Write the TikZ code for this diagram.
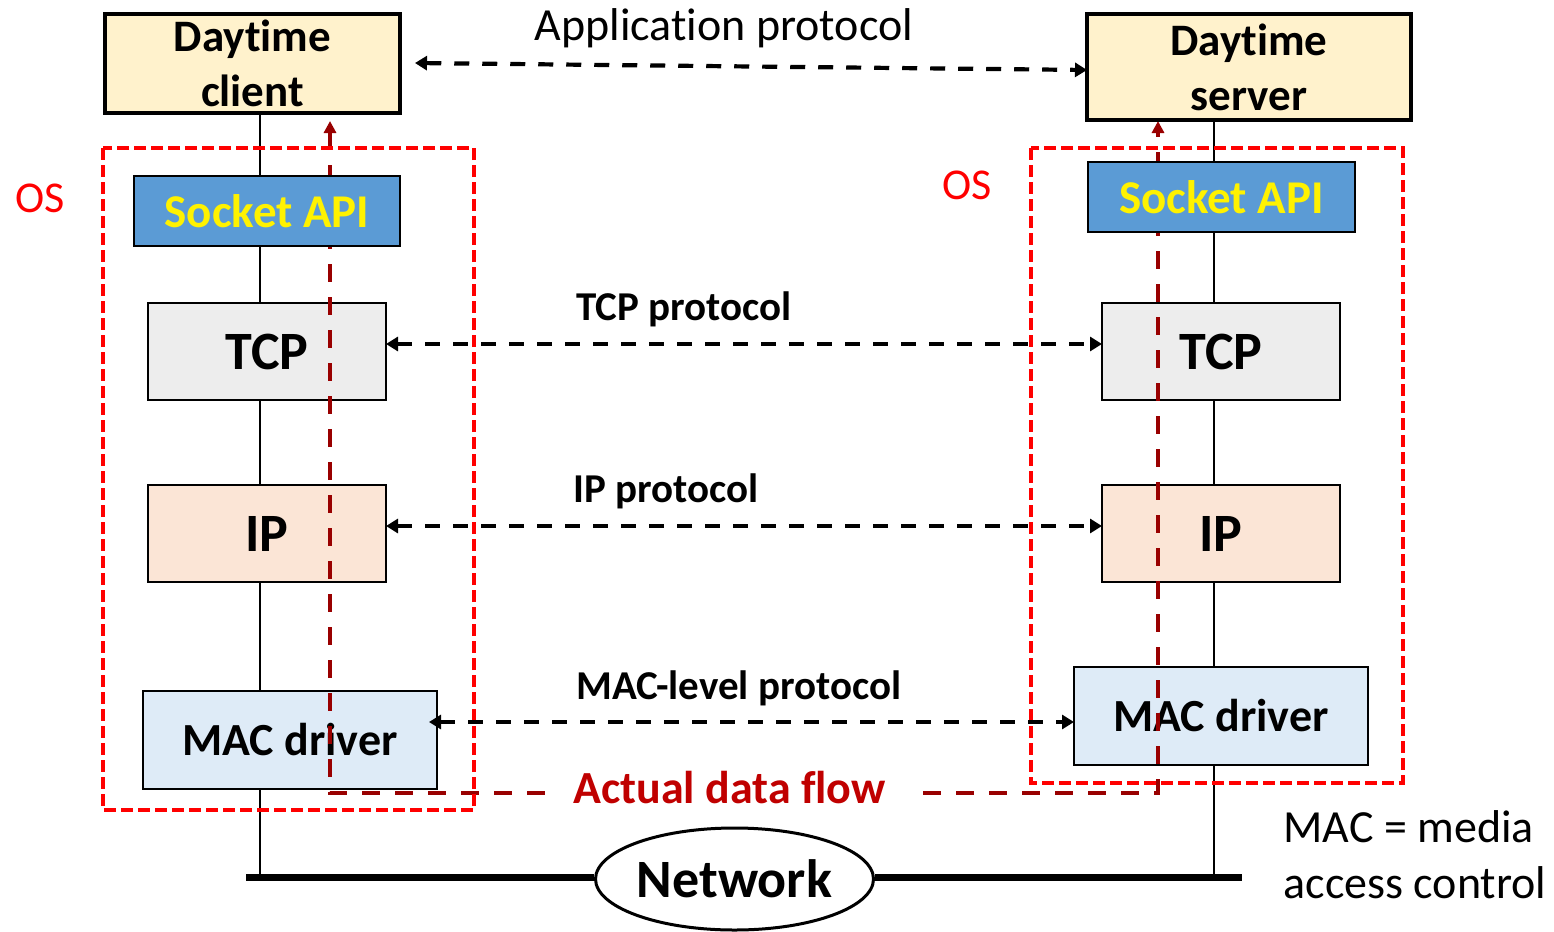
\documentclass[tikz,border=0pt]{standalone}
\usepackage{fontspec}
\setmainfont{Carlito}[Ligatures={NoCommon}]
\usetikzlibrary{arrows.meta,shapes.geometric}

\definecolor{cream}{HTML}{FFF2CC}
\definecolor{apiblue}{HTML}{5B9BD5}
\definecolor{tcpgray}{HTML}{EDEDED}
\definecolor{ippeach}{HTML}{FBE5D6}
\definecolor{macblue}{HTML}{DEEBF7}
\definecolor{flowred}{HTML}{990000}
\definecolor{flowtext}{HTML}{C00000}
\definecolor{osred}{HTML}{FF0000}

\newcommand\fsz[2]{\fontsize{#1}{#2}\selectfont}

\tikzset{
  layer/.style={draw=black, line width=1.8pt, inner sep=0pt, outer sep=0pt,
    font=\bfseries\fsz{54}{60}},
  appbox/.style={draw=black, line width=4.5pt, fill=cream, inner sep=0pt, outer sep=0pt,
    align=center, font=\bfseries\fsz{45}{55}},
  apibox/.style={draw=black, line width=2.2pt, fill=apiblue, inner sep=0pt, outer sep=0pt,
    text=yellow, font=\bfseries\fsz{47}{50}},
  conn/.style={draw=black, line width=2.2pt},
  netline/.style={draw=black, line width=7pt},
  proto/.style={draw=black, line width=4.2pt, dash pattern=on 15pt off 13pt,
    {Triangle[length=12pt,width=14pt]}-{Triangle[length=12pt,width=14pt]}},
  protolabel/.style={font=\bfseries\fsz{41}{46}},
  osbox/.style={draw=osred, line width=4pt, dash pattern=on 12pt off 5pt},
  oslabel/.style={text=osred, font=\fsz{44}{50}},
  flow/.style={draw=flowred, line width=4.2pt, dash pattern=on 18pt off 15pt,
    {Triangle[length=12pt,width=12pt]}-{Triangle[length=12pt,width=12pt]}},
}

\begin{document}
\begin{tikzpicture}[x=1pt, y=-1pt]
\useasboundingbox (0,0) rectangle (1554,931);

% x positions of the vertical stack connectors
\coordinate (cl) at (260,0);
\coordinate (sl) at (1214,0);
\coordinate (netL) at (246,877);
\coordinate (netR) at (1242,877);

% protocol layers below the socket interface
\node[layer, fill=tcpgray, minimum width=238pt, minimum height=97pt] (ctcp) at (267,351.5) {TCP};
\node[layer, fill=tcpgray, minimum width=238pt, minimum height=97pt] (stcp) at (1221,351.5) {TCP};
\node[layer, fill=ippeach, minimum width=238pt, minimum height=97pt] (cip) at (267,533.5) {IP};
\node[layer, fill=ippeach, minimum width=238pt, minimum height=97pt] (sip) at (1221,533.5) {IP};
\node[layer, fill=macblue, minimum width=294pt, minimum height=98pt, font=\bfseries\fsz{46}{50}] (cmac) at (290,740) {MAC driver};
\node[layer, fill=macblue, minimum width=294pt, minimum height=98pt, font=\bfseries\fsz{46}{50}] (smac) at (1221,716) {MAC driver};

% network medium
\node[draw=black, line width=3pt, ellipse, minimum width=278pt, minimum height=102pt,
  inner sep=0pt, fill=white, font=\bfseries\fsz{54}{60}] (network) at (734.5,879) {Network};
\draw[netline] (netL) -- (network.west |- netL);
\draw[netline] (network.east |- netR) -- (netR);

% path of the data through both stacks
\coordinate (fc) at (330,121);
\coordinate (fs) at (1158,121);
\draw[flow] (fc) -- (330,793) -- (1158,793) -- (fs);
\node[fill=white, inner xsep=28pt, inner ysep=4pt, text=flowtext,
  font=\bfseries\fsz{46}{50}] (flowlabel) at (729.5,788) {Actual data flow};

% socket interface and applications
\node[apibox, minimum width=266pt, minimum height=70pt] (csock) at (267,211) {Socket API};
\node[apibox, minimum width=267pt, minimum height=70pt] (ssock) at (1221.5,197) {Socket API};
\node[appbox, minimum width=295pt, minimum height=99pt] (client) at (252.5,63.5) {Daytime\\client};
\node[appbox, minimum width=324pt, minimum height=106pt] (server) at (1249,67) {Daytime\\server};

% vertical links inside each stack
\draw[conn] (client.south -| cl) -- (csock.north -| cl);
\draw[conn] (csock.south -| cl) -- (ctcp.north -| cl);
\draw[conn] (ctcp.south -| cl) -- (cip.north -| cl);
\draw[conn] (cip.south -| cl) -- (cmac.north -| cl);
\draw[conn] (cmac.south -| cl) -- (netL -| cl);
\draw[conn] (server.south -| sl) -- (ssock.north -| sl);
\draw[conn] (ssock.south -| sl) -- (stcp.north -| sl);
\draw[conn] (stcp.south -| sl) -- (sip.north -| sl);
\draw[conn] (sip.south -| sl) -- (smac.north -| sl);
\draw[conn] (smac.south -| sl) -- (netR -| sl);

% operating system boundaries
\draw[osbox] (103,148) rectangle (474,810);
\draw[osbox] (1031,148) rectangle (1403,783);
\node[oslabel] (osc) at (40,198) {OS};
\node[oslabel] (oss) at (967,185) {OS};

% peer protocols
\coordinate (apL) at (415,63);
\draw[proto] (apL) -- ([yshift=-3pt]server.west);
\node[font=\fsz{46}{50}] (aplabel) at (724,28) {Application protocol};
\draw[proto] ([yshift=7.5pt]ctcp.east) -- ([yshift=7.5pt]stcp.west);
\node[protolabel] (tcplabel) at (684,309) {TCP protocol};
\draw[proto] ([yshift=7.5pt]cip.east) -- ([yshift=7.5pt]sip.west);
\node[protolabel] (iplabel) at (666,491) {IP protocol};
\draw[proto] ([xshift=-8pt,yshift=18pt]cmac.east) -- ([yshift=-6pt]smac.west);
\node[protolabel] (maclabel) at (739,688) {MAC-level protocol};

% footnote
\node[align=left, anchor=west, font=\fsz{46}{56}] (macnote) at (1280,855) {MAC = media\\access control};
\end{tikzpicture}
\end{document}
